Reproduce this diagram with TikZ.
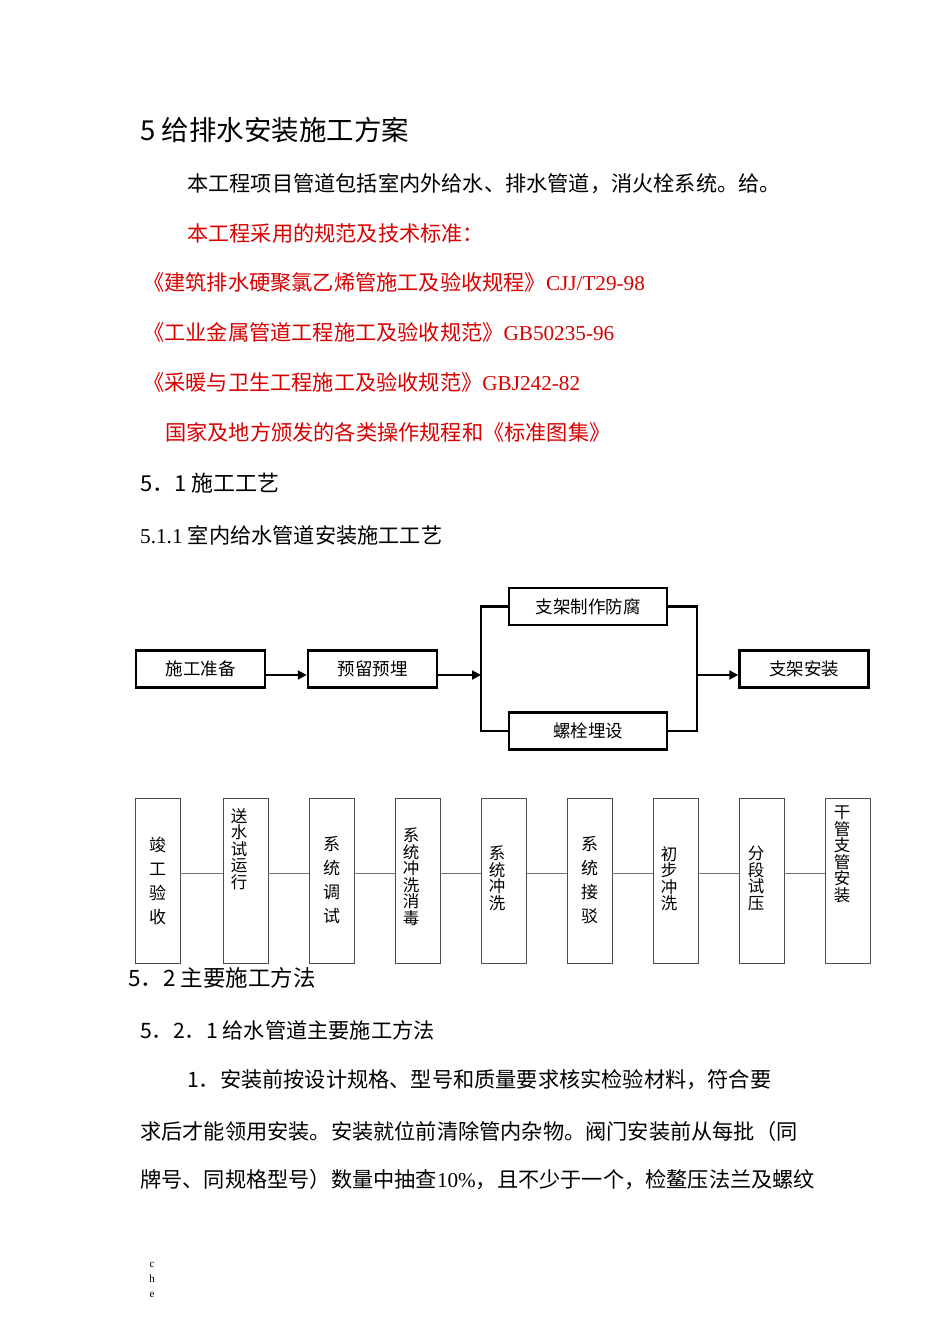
\documentclass[tikz,border=0pt]{standalone}
\usepackage{fontspec}
\setmainfont{Liberation Serif}
\newfontfamily\cj{Noto Sans CJK SC}
\usetikzlibrary{arrows.meta}
\begin{document}
\begin{tikzpicture}[x=1pt,y=-1pt,
 txt/.style={anchor=west,inner sep=0pt,font=\cj\fontsize{21.2}{21}\selectfont},
 red/.style={txt,text=red!85!black},
 hbox/.style={draw,line width=2.5pt,minimum width=129pt,minimum height=37pt,inner sep=0pt,font=\cj\fontsize{17.5}{17}\selectfont},
 vbox/.style={draw=black!70,line width=0.6pt,minimum width=45pt,minimum height=165pt,inner sep=0pt,font=\cj\fontsize{17}{18}\selectfont,align=center},
 vt/.style={anchor=north,inner sep=0pt,font=\cj\fontsize{16.5}{16.5}\selectfont,align=center},
 thick/.style={line width=2.5pt},
 arr/.style={thick,-{Triangle[length=9pt,width=9pt]}},
 conn/.style={draw=black!55,line width=0.8pt}]
\useasboundingbox (0,0) rectangle (950,1344);
\node[txt,font=\cj\fontsize{27.5}{27}\selectfont] (t1) at (140,130) {5 给排水安装施工方案};
\node[txt] (t2) at (187,184) {本工程项目管道包括室内外给水、排水管道，消火栓系统。给。};
\node[red] (t3) at (187,233) {本工程采用的规范及技术标准：};
\node[red] (t4) at (143,282) {《建筑排水硬聚氯乙烯管施工及验收规程》\rmfamily CJJ/T29-98};
\node[red] (t5) at (143,332) {《工业金属管道工程施工及验收规范》\rmfamily GB50235-96};
\node[red] (t6) at (143,382) {《采暖与卫生工程施工及验收规范》\rmfamily GBJ242-82};
\node[red] (t7) at (165,432) {国家及地方颁发的各类操作规程和《标准图集》};
\node[txt,font=\cj\fontsize{22}{22}\selectfont] (t8) at (140,483) {5．1 施工工艺};
\node[txt] (t9) at (140,535) {\rmfamily 5.1.1 \cj 室内给水管道安装施工工艺};
% flowchart
\node[hbox] (a) at (200.5,669) {施工准备};
\node[hbox] (b) at (372.5,669) {预留预埋};
\node[hbox,minimum width=158pt] (c) at (588,606.5) {支架制作防腐};
\node[hbox,minimum width=158pt] (d) at (588,731) {螺栓埋设};
\node[hbox] (e) at (804,669) {支架安装};
\coordinate (jl) at (481,675);
\coordinate (jr) at (697,675);
\draw[arr] (a.east |- jl) -- (b.west |- jl);
\draw[arr] (b.east |- jl) -- (jl);
\draw[thick] (c.west) -- (481,606.5) -- (481,731) -- (d.west);
\draw[thick] (c.east) -- (697,606.5) -- (697,731) -- (d.east);
\draw[arr] (jr) -- (e.west |- jr);
% vertical boxes
\foreach \n/\x/\t in {v1/157.5/{竣\\[6pt]工\\[6pt]验\\[6pt]收},v3/331.5/{系\\[6pt]统\\[6pt]调\\[6pt]试},v6/589.5/{系\\[6pt]统\\[6pt]接\\[6pt]驳}}
  \node[vbox] (\n) at (\x,880.5) {\t};
\node[vbox] (v2) at (245.5,880.5) {}; \node[vt] (v2t) at (239,808) {送\\水\\试\\运\\行};
\node[vbox] (v4) at (417.5,880.5) {}; \node[vt] (v4t) at (411,828) {系\\统\\冲\\洗\\消\\毒};
\node[vbox] (v5) at (503.5,880.5) {}; \node[vt] (v5t) at (497,846) {系\\统\\冲\\洗};
\node[vbox] (v7) at (675.5,880.5) {}; \node[vt] (v7t) at (669,846) {初\\步\\冲\\洗};
\node[vbox] (v8) at (761.5,880.5) {}; \node[vt] (v8t) at (756,846) {分\\段\\试\\压};
\node[vbox] (v9) at (847.5,880.5) {}; \node[vt] (v9t) at (842,806) {干\\管\\支\\管\\安\\装};
\foreach \p/\q in {v1/v2,v2/v3,v3/v4,v4/v5,v5/v6,v6/v7,v7/v8,v8/v9}
  \draw[conn] ([yshift=7pt]\p.east) -- ([yshift=7pt]\q.west);
\node[txt,font=\cj\fontsize{22.5}{22}\selectfont] (t10) at (128,978) {5．2 主要施工方法};
\node[txt] (t11) at (140,1030) {5．2．1 给水管道主要施工方法};
\node[txt] (t12) at (187,1080) {1．安装前按设计规格、型号和质量要求核实检验材料，符合要};
\node[txt] (t13) at (140,1131) {求后才能领用安装。安装就位前清除管内杂物。阀门安装前从每批（同};
\node[txt] (t14) at (140,1180) {牌号、同规格型号）数量中抽查\rmfamily 10\%\cj，且不少于一个，检鳌压法兰及螺纹};
\node[inner sep=0pt,font=\fontsize{11}{15}\selectfont,align=center,anchor=north] (t15) at (152,1262) {c\\h\\e};
\end{tikzpicture}
\end{document}
